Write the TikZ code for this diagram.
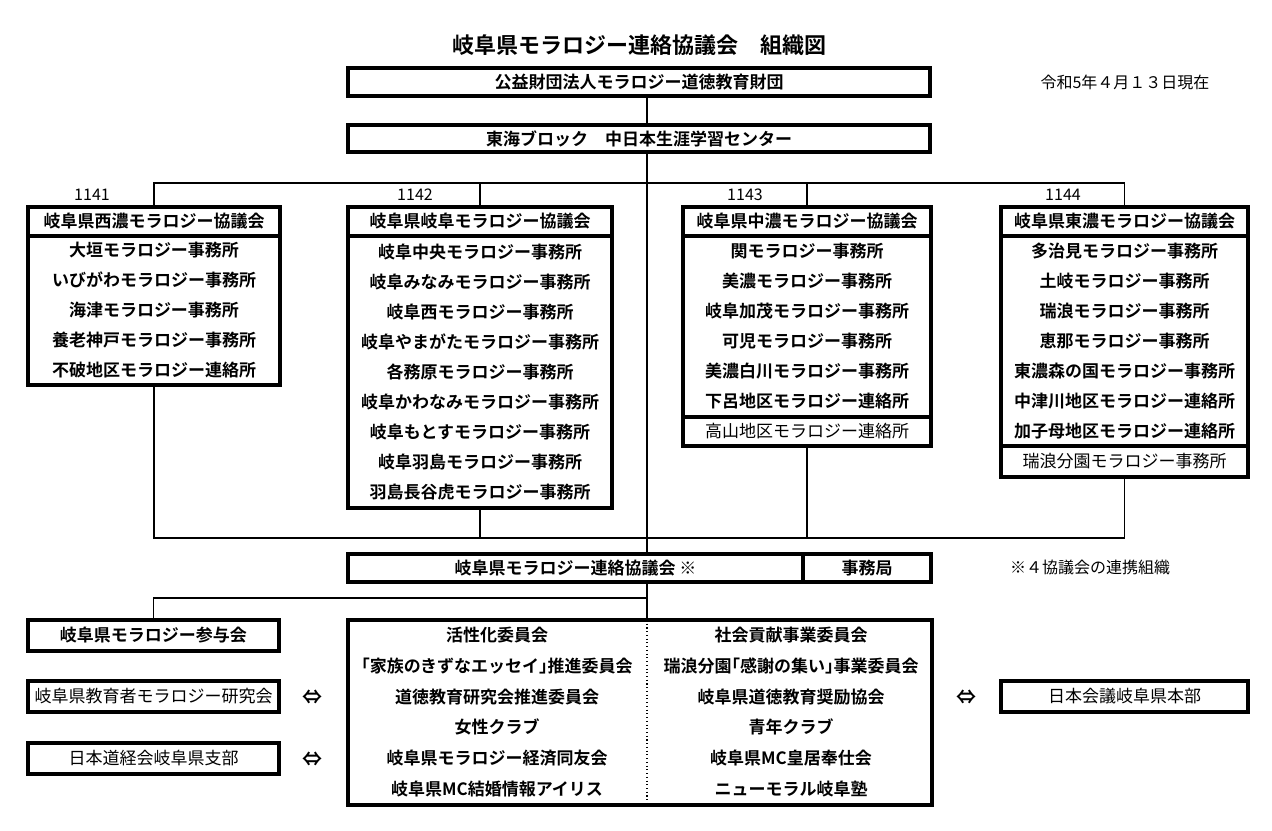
\documentclass[tikz,border=0pt]{standalone}
\usepackage{fontspec}
\setmainfont{Noto Sans CJK JP}[BoldFont={Noto Sans CJK JP Bold}]
\usetikzlibrary{positioning}
\newdimen\px \px=0.75pt
\tikzset{
  box/.style={draw, line width=2.4pt, outer sep=0pt, inner sep=0pt,
    minimum height=29\px, font=\bfseries\fontsize{12.75}{15}\selectfont},
  thin box/.style={box, font=\fontsize{12.75}{15}\selectfont},
  list/.style={box, align=center, font=\bfseries\fontsize{12.75}{22.5}\selectfont},
  conn/.style={line width=1.3pt},
  note/.style={font=\fontsize{12}{14}\selectfont},
  both/.style={font=\bfseries\fontsize{15}{18}\selectfont}
}
\newcommand\halfbr[1]{{\addfontfeature{RawFeature=+halt}#1}}
\begin{document}
\begin{tikzpicture}[x=0.75pt, y=-0.75pt]
\useasboundingbox (0,0) rectangle (1272,831);
\coordinate (spine) at (647,0);
\coordinate (busT) at (0,183);
\coordinate (busB) at (0,538);
\coordinate (busM) at (0,598);
% title and top of the chart
\node (title) at (639,45) {\bfseries\fontsize{16.5}{20}\selectfont 岐阜県モラロジー連絡協議会　組織図};
\node[note] (date) at (1125,82) {令和5年４月１３日現在};
\node[box, minimum width=582\px, minimum height=28\px] (zaidan) at (639,82) {公益財団法人モラロジー道徳教育財団};
\node[box, minimum width=582\px, minimum height=27\px] (tokai) at (639,138.5) {東海ブロック　中日本生涯学習センター};
% four councils
\node[box, minimum width=252\px] (h1) at (154,221.5) {岐阜県西濃モラロジー協議会};
\node[list, minimum width=252\px, minimum height=149\px, below=0pt of h1] (b1) {大垣モラロジー事務所\\いびがわモラロジー事務所\\海津モラロジー事務所\\養老神戸モラロジー事務所\\不破地区モラロジー連絡所};
\node[box, minimum width=264\px] (h2) at (480,221.5) {岐阜県岐阜モラロジー協議会};
\node[list, minimum width=264\px, minimum height=272\px, below=0pt of h2] (b2) {岐阜中央モラロジー事務所\\岐阜みなみモラロジー事務所\\岐阜西モラロジー事務所\\岐阜やまがたモラロジー事務所\\各務原モラロジー事務所\\岐阜かわなみモラロジー事務所\\岐阜もとすモラロジー事務所\\岐阜羽島モラロジー事務所\\羽島長谷虎モラロジー事務所};
\node[box, minimum width=248\px] (h3) at (807,221.5) {岐阜県中濃モラロジー協議会};
\node[list, minimum width=248\px, minimum height=181\px, below=0pt of h3] (b3) {関モラロジー事務所\\美濃モラロジー事務所\\岐阜加茂モラロジー事務所\\可児モラロジー事務所\\美濃白川モラロジー事務所\\下呂地区モラロジー連絡所};
\node[thin box, minimum width=248\px, below=0pt of b3] (x3) {高山地区モラロジー連絡所};
\node[box, minimum width=247\px] (h4) at (1124.5,221.5) {岐阜県東濃モラロジー協議会};
\node[list, minimum width=247\px, minimum height=210\px, below=0pt of h4] (b4) {多治見モラロジー事務所\\土岐モラロジー事務所\\瑞浪モラロジー事務所\\恵那モラロジー事務所\\東濃森の国モラロジー事務所\\中津川地区モラロジー連絡所\\加子母地区モラロジー連絡所};
\node[thin box, minimum width=247\px, minimum height=31\px, below=0pt of b4] (x4) {瑞浪分園モラロジー事務所};
\node[note] (n1) at (92,195) {1141};
\node[note] (n2) at (415,195) {1142};
\node[note] (n3) at (745,195) {1143};
\node[note] (n4) at (1063,195) {1144};
% liaison council
\node[box, minimum width=455\px, minimum height=28\px] (renraku) at (575.5,568) {岐阜県モラロジー連絡協議会 ※};
\node[box, minimum width=128\px, minimum height=28\px] (jimu) at (867,568) {事務局};
\node[note] (kome) at (1090,567) {※４協議会の連携組織};
% bottom row
\node[box, minimum width=251\px, minimum height=31\px] (sanyo) at (153.5,635.5) {岐阜県モラロジー参与会};
\node[thin box, minimum width=251\px, minimum height=31\px] (kyoiku) at (153.5,696.5) {岐阜県教育者モラロジー研究会};
\node[thin box, minimum width=251\px, minimum height=31\px] (dokei) at (153.5,758.5) {日本道経会岐阜県支部};
\node[thin box, minimum width=247\px, minimum height=31\px] (nihon) at (1124.5,696.5) {日本会議岐阜県本部};
\node[both] (ar1) at (312,697) {⇔};
\node[both] (ar2) at (312,759) {⇔};
\node[both] (ar3) at (966,697) {⇔};
\node[box, minimum width=584\px, minimum height=185\px] (iinkai) at (640,712.5) {};
\node[align=center, font=\bfseries\fontsize{12.75}{23.1}\selectfont] (left) at (497,712) {活性化委員会\\\halfbr{「家族のきずなエッセイ」}推進委員会\\道徳教育研究会推進委員会\\女性クラブ\\岐阜県モラロジー経済同友会\\岐阜県MC結婚情報アイリス};
\node[align=center, font=\bfseries\fontsize{12.75}{23.1}\selectfont] (right) at (791,712) {社会貢献事業委員会\\瑞浪分園\halfbr{「感謝の集い」}事業委員会\\岐阜県道徳教育奨励協会\\青年クラブ\\岐阜県MC皇居奉仕会\\ニューモラル岐阜塾};
\draw[dotted, line width=0.8pt] (iinkai.north -| spine) -- (iinkai.south -| spine);
% connectors
\draw[conn] (zaidan.south -| spine) -- (tokai.north -| spine);
\draw[conn] (tokai.south -| spine) -- (renraku.north -| spine);
\draw[conn] (h1.north) -- (h1.north |- busT) -- (h4.north |- busT) -- (h4.north);
\draw[conn] (h2.north) -- (h2.north |- busT);
\draw[conn] (h3.north) -- (h3.north |- busT);
\draw[conn] (b1.south) -- (b1.south |- busB) -- (x4.south |- busB) -- (x4.south);
\draw[conn] (b2.south) -- (b2.south |- busB);
\draw[conn] (x3.south) -- (x3.south |- busB);
\draw[conn] (renraku.south -| spine) -- (iinkai.north -| spine);
\draw[conn] (spine |- busM) -| (sanyo.north);
\end{tikzpicture}
\end{document}
